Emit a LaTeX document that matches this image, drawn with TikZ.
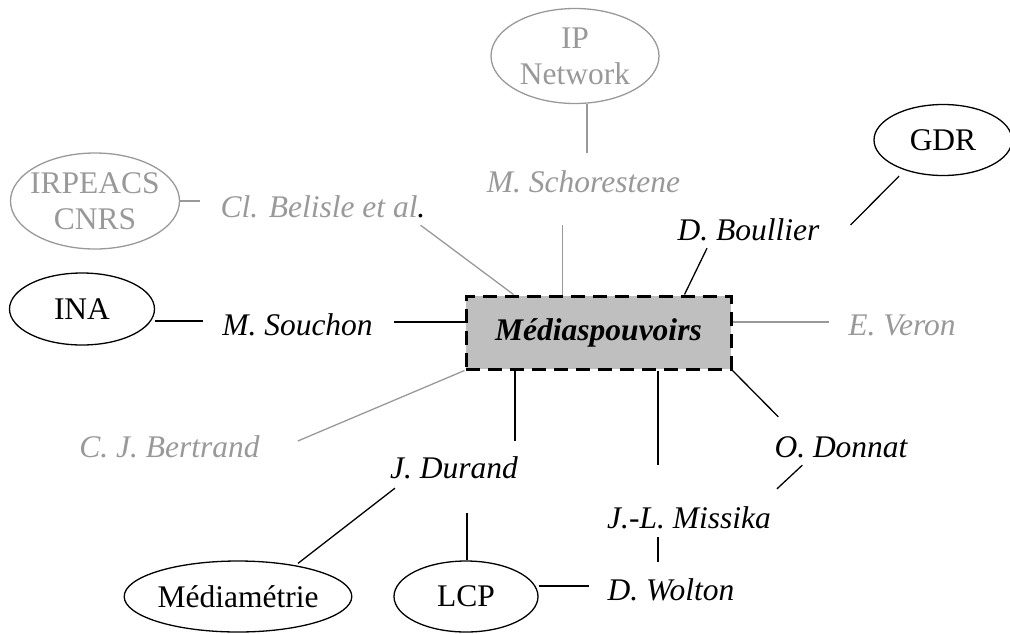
\documentclass[tikz,border=0pt]{standalone}
\usepackage{fontspec}
\setmainfont{Liberation Serif}
\usepackage{xcolor}
\usepackage{tikz}
\usetikzlibrary{shapes.geometric}

\definecolor{paleink}{gray}{0.6}
\definecolor{hubfill}{gray}{0.75}

\begin{document}
\begin{tikzpicture}[
    x=1pt, y=-1pt,
    font=\fontsize{31.5}{36}\selectfont,
    partner/.style={draw, ellipse, line width=1.3pt, inner sep=0pt, align=center},
    person/.style={font=\fontsize{31.5}{36}\selectfont\itshape, inner sep=0pt,
                   anchor=base, text height=21pt, text depth=0pt},
    hub/.style={draw, line width=3pt, dash pattern=on 14pt off 8pt,
                fill=hubfill, minimum width=265pt, minimum height=73pt,
                font=\fontsize{31.5}{36}\selectfont\bfseries\itshape},
    link/.style={line width=1.3pt},
    pale/.style={paleink, text=paleink},
]
    \useasboundingbox (0,0) rectangle (1010,633);

    % centre
    \node[hub] (hub) at (598.5,332.5) {Médiaspouvoirs};

    % institutions
    \node[partner, pale, minimum width=168pt, minimum height=95pt] (ipnet) at (575,56)
        {\makebox[0pt]{IP}\\\makebox[0pt]{Network}};
    \node[partner, pale, minimum width=169pt, minimum height=96pt] (irpeacs) at (95,201)
        {\makebox[0pt]{IRPEACS}\\\makebox[0pt]{CNRS}};
    \node[partner, minimum width=138pt, minimum height=71pt] (gdr) at (943,140) {GDR};
    \node[partner, minimum width=145pt, minimum height=72pt] (ina) at (82,309) {INA};
    \node[partner, minimum width=217pt, minimum height=71pt] (mediam) at (238,596.5) {Médiamétrie};
    \node[partner, minimum width=144pt, minimum height=71pt] (lcp) at (466,596.5) {LCP};

    % people
    \node[person, text=paleink] (schor) at (583.5,192) {M. Schorestene};
    \node[person, text=paleink] (belisle) at (323,217) {Cl. Belisle et al\textcolor{black}{.}};
    \node[person] (boullier) at (748.5,240) {D. Boullier};
    \node[person] (souchon) at (297.5,335) {M. Souchon};
    \node[person, text=paleink] (veron) at (902,335) {E. Veron};
    \node[person, text=paleink] (bertrand) at (169.5,457) {C. J. Bertrand};
    \node[person] (durand) at (454,478) {J. Durand};
    \node[person] (donnat) at (841,457) {O. Donnat};
    \node[person] (missika) at (689,528) {J.-L. Missika};
    \node[person] (wolton) at (671,600) {D. Wolton};

    % grey links
    \draw[link, paleink] ([xshift=12pt]ipnet.south) -- ([xshift=3.5pt,yshift=18pt]schor.north);
    \draw[link, paleink] ([xshift=-21pt,yshift=-33pt]schor.south) -- ([xshift=-36pt]hub.north);
    \draw[link, paleink] (irpeacs.east) -- ([xshift=-20pt,yshift=5.5pt]belisle.west);
    \draw[link, paleink] ([xshift=-5pt,yshift=-8pt]belisle.south east) -- ([xshift=49pt]hub.north west);
    \draw[link, paleink] ([yshift=10.5pt]hub.east) -- ([xshift=-19pt,yshift=2.5pt]veron.west);
    \draw[link, paleink] ([xshift=38pt,yshift=5.5pt]bertrand.east) -- (hub.south west);

    % black links
    \draw[link] ([xshift=-44pt]gdr.south) -- ([xshift=31pt,yshift=4.5pt]boullier.east);
    \draw[link] ([xshift=-41.5pt,yshift=-8pt]boullier.south) -- ([xshift=-48pt]hub.north east);
    \draw[link] ([yshift=-12pt]ina.east) -- ([xshift=-19pt,yshift=3.5pt]souchon.west);
    \draw[link] ([xshift=21pt,yshift=2.5pt]souchon.east) -- ([yshift=10.5pt]hub.west);
    \draw[link] ([xshift=-83.5pt]hub.south) -- ([xshift=61pt,yshift=16pt]durand.north);
    \draw[link] ([xshift=5pt,yshift=-10pt]durand.south west) -- ([xshift=60pt,yshift=-3pt]mediam.north);
    \draw[link] ([xshift=13pt,yshift=-35pt]durand.south) -- ([xshift=1pt]lcp.north);
    \draw[link] ([yshift=10.5pt]lcp.east) -- ([xshift=-19pt,yshift=3.5pt]wolton.west);
    \draw[link] ([xshift=59.5pt]hub.south) -- ([xshift=-31pt,yshift=42pt]missika.north);
    \draw[link] ([xshift=-31pt,yshift=-9pt]missika.south) -- ([xshift=-13pt,yshift=17pt]wolton.north);
    \draw[link] (hub.south east) -- ([xshift=4pt,yshift=19pt]donnat.north west);
    \draw[link] ([xshift=28pt,yshift=-8pt]donnat.south west) -- ([xshift=6pt,yshift=18pt]missika.north east);
\end{tikzpicture}
\end{document}
